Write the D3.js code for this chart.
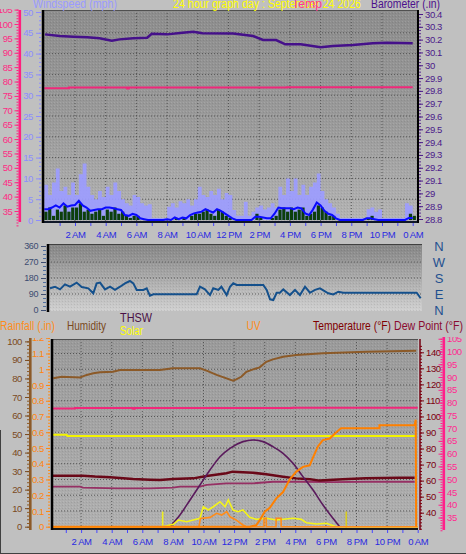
<!DOCTYPE html>
<html><head><meta charset="utf-8">
<script src="https://cdn.jsdelivr.net/npm/d3@7/dist/d3.min.js"></script>
<style>
html,body{margin:0;padding:0;background:#c0c0c0;}
svg{display:block;}
text{font-family:"Liberation Sans",Arial,sans-serif;}
</style></head><body>
<svg id="chart" width="466" height="554"></svg>
<script>
// ---------------- DATA ----------------
const hourTicks = [2,4,6,8,10,12,14,16,18,20,22,24];
const hourLabels = ["2 AM","4 AM","6 AM","8 AM","10 AM","12 PM","2 PM","4 PM","6 PM","8 PM","10 PM","0 AM"];

const pinkTicks = [35,40,45,50,55,60,65,70,75,80,85,90,95,100,105];
const windTicks = [0,5,10,15,20,25,30,35,40,45,50];
const baroTicks = [28.8,28.9,29.0,29.1,29.2,29.3,29.4,29.5,29.6,29.7,29.8,29.9,30.0,30.1,30.2,30.3,30.4];
const dirTicks = [0,90,180,270,360];
const dirLetters = ["N","W","S","E","N"];
const dirLetterAngles = [360,270,180,90,0];
const humTicks = [0,10,20,30,40,50,60,70,80,90,100];
const rainTicks = [0,0.1,0.2,0.3,0.4,0.5,0.6,0.7,0.8,0.9,1,1.1,1.2];
const tempTicks = [40,50,60,70,80,90,100,110,120,130,140];

// wind (mph), one value every 15 minutes from 0:00 to 24:00
const windHigh = [8.5,6,9,12.4, 7,8,6,9, 6,11,13.6,8, 6,5,7,5.5, 8,6,9,7, 5,4,3.5,6, 5.5,4,3.5,3.8, 0.5,0.5,0.5,0.5,
  3.2,4,3,4.5, 4,5,3.5,5, 8,6,5.5,7, 6,7.5,5,6.5, 6,2.4,1,1, 4.4,1,2,3, 3.5,2.5,3,4, 3,8,6,10,
  7,10,6,8.5, 6,8,9,11.2, 7,5,4,3, 1.5,0.5,0.5,0.5, 0.5,0.5,0.5,0.5, 2.6,3,2,2.5, 0.5,0.5,0.5,0.5, 0.5,0.5,4,3.5, 4];
const windAvg = [2.6,2.6,3,3.5, 3,4,3.2,3.5, 3.6,4.6,3.5,3, 2.2,2.4,2.6,2.6, 3,3,2.8,2.6, 2.4,1.2,1,1.5, 1.2,0.4,0.2,0, 0,0,0,0,
  0.2,0,0.6,0.2, 0.6,0.4,1.2,1.6, 1.8,2,2.6,2.2, 1.8,2.6,2.2,1.6, 1,0.4,0,0, 0,0,0,0.8, 0.8,0.6,0.4,0.4, 1.5,3,2.8,2.8,
  2.8,2.6,3,2.8, 1.6,1.2,2.5,4.2, 3.5,2.2,1.5,1.2, 0.4,0,0,0, 0,0,0,0, 0.4,0.4,0.2,0, 0,0,0,0, 0,0,0,0.5, 0.5];
const windSpeed = [2,3,1,2.5, 2,3.5,2,3, 3,4,2,2.5, 1.5,2,2.5,1, 2.5,2,3,1.5, 2,1,0.5,1, 1,0,0,0, 0,0,0,0,
  0,0,0.5,0, 0.5,0,1,1.5, 1.5,2,2.5,1.5, 1,2.5,2,1, 0.5,0,0,0, 0,0,0,1.5, 0.5,0,0,0.5, 1,2.5,3,2,
  3,2,2.5,3, 1,1.5,2,3.5, 3,2,1,1, 0,0,0,0, 0,0,0,0, 0.5,1,0,0, 0,0,0,0, 0,0,0,1.5, 1];
const windStepHours = 0.25;

const baroHours = [0.05,1.0,1.9,2.8,3.6,4.4,4.9,5.8,6.7,7.0,8.0,9.0,9.7,10.3,12.3,13.6,14.25,15.1,15.7,16.7,18.0,18.8,20.1,21.4,22.3,24.0];
const baroValues = [30.241,30.228,30.223,30.218,30.210,30.191,30.202,30.210,30.215,30.246,30.241,30.254,30.262,30.249,30.248,30.228,30.197,30.197,30.163,30.163,30.140,30.150,30.158,30.171,30.176,30.171];

const insideTempHours = [0,1.6,5.3,5.4,5.5,15.8,24];
const insideTempValues = [77.7,77.9,77.9,77.6,77.9,78.0,78.0];

const dirHours = [0.13,0.45,0.78,1.1,1.43,1.86,2.19,2.62,2.94,3.16,3.38,3.7,4.03,4.35,4.68,5.0,5.32,5.54,5.76,6.19,6.41,6.62,6.84,9.65,9.87,10.19,10.52,10.73,11.06,11.26,11.6,11.82,12.03,12.25,13.98,14.2,14.42,14.63,14.85,15.06,15.28,15.71,16.04,16.36,16.69,17.01,17.34,17.66,18.2,18.53,18.85,19.18,23.94,24.2];
const dirValues = [122,131,116,144,131,154,129,122,94,150,154,116,131,113,131,150,163,150,113,113,122,80,88,88,131,116,84,122,113,131,84,131,150,141,141,113,60,56,97,97,116,84,113,84,131,97,113,122,94,88,103,97,97,66];

const humHours = [0.18,0.73,1.93,2.37,2.8,3.24,4.08,4.54,7.16,8.0,9.77,10.2,10.86,11.93,12.14,12.47,12.8,13.24,13.67,14.1,14.54,15.2,16.07,17.81,20.64,23.9];
const humValues = [80.1,80.9,80.5,81.9,82.8,83.3,83.6,84.6,84.6,85.5,85.5,84.2,81.9,78.8,79.5,80.9,83.6,84.9,86.0,89.0,90.3,91.7,92.7,93.6,94.4,95.0];

const insideHumHours = [0.1,1.06,1.1,23.9];
const insideHumValues = [49.6,49.6,48.9,48.9];

const tempHours = [0.16,2.12,2.9,3.9,5.4,6.5,7.16,8.0,9.33,10.2,11.5,11.9,13.24,14.1,15.2,16.05,16.96,17.6,19.1,20.6,22.8,23.8];
const tempValues = [63.1,63.1,62.5,62.1,61.0,60.6,60.4,61.0,61.4,62.9,64.6,65.6,64.9,63.9,62.4,61.4,60.8,60.0,60.8,61.4,61.8,61.8];

const dewHours = [0.16,1.93,2.12,4.35,6.5,8.0,8.46,9.77,10.2,11.5,13.24,14.54,16.3,18.46,20.6,23.8];
const dewValues = [56.2,56.2,55.6,55.2,55.2,55.6,56.2,56.2,57.3,58.3,58.3,59.3,59.3,59.0,59.3,59.3];

const thswHours = [7.81,8.46,9.12,9.77,10.42,11.08,11.73,12.58,13.24,13.89,14.54,15.2,15.85,16.5,17.16,17.81,18.46,18.9];
const thswValues = [0,100,229,357,486,600,672,729,743,729,686,629,543,429,314,186,72,0];

const solarHours = [0,7.33,8.03,8.35,8.9,9.33,9.77,9.99,10.31,10.64,11.08,11.41,11.62,11.93,12.25,12.58,13.02,13.45,14.1,14.76,15.85,16.39,16.72,17.4,18.03,18.68,24];
const solarValues = [0,0,20,57,43,57,72,171,143,171,214,171,229,143,129,143,80,63,72,57,72,63,34,23,29,0,0];
const sunMarkHours = [7.33,19.33];
const sunMarkLevel = 130;

const uvHours = [0,9.7,9.8,10.43,10.86,11.19,11.52,11.73,12.1,12.58,12.8,13.95,13.96,14.1,14.11,14.74,14.75,15.07,15.08,24];
const uvValues = [0,0,0.7,0.8,1.15,1.0,1.3,0.85,0.6,0.15,0,0,0.72,0.72,0,0,0.72,0.72,0,0];

const rainHours = [0,13.0,13.45,13.67,14.0,14.33,14.76,15.2,15.63,16.07,16.5,16.94,17.16,17.48,17.8,18.25,18.68,18.99,21.5,21.5,23.8,23.87,23.9];
const rainValues = [0,0,0.01,0.04,0.095,0.12,0.18,0.22,0.30,0.35,0.38,0.39,0.44,0.51,0.55,0.56,0.60,0.625,0.625,0.645,0.645,0.68,0];

// ---------------- DRAW ----------------
const svg = d3.select("#chart");
svg.append("rect").attr("width",466).attr("height",554).attr("fill","#c0c0c0");
const defs = svg.append("defs");
function vgrad(id, stops){
  const g = defs.append("linearGradient").attr("id",id).attr("x1",0).attr("y1",0).attr("x2",0).attr("y2",1);
  stops.forEach(s=>g.append("stop").attr("offset",s[0]).attr("stop-color",s[1]));
}
vgrad("gTop",[[0,"#8d8d8d"],[0.55,"#9b9b9b"],[1,"#b4b4b4"]]);
vgrad("gMid",[[0,"#858585"],[0.28,"#999"],[1,"#d0d0d0"]]);
vgrad("gBot",[[0,"#9a9a9a"],[1,"#b0b0b0"]]);
const pat = defs.append("pattern").attr("id","speck").attr("width",3).attr("height",3).attr("patternUnits","userSpaceOnUse");
pat.append("rect").attr("x",0).attr("y",0).attr("width",1).attr("height",1).attr("fill","#fff").attr("opacity",0.12);
pat.append("rect").attr("x",2).attr("y",1).attr("width",1).attr("height",1).attr("fill","#000").attr("opacity",0.08);

const P = {top:{x0:43,x1:418,y0:10,y1:222}, mid:{x0:48,x1:422,y0:244,y1:311}, bot:{x0:52,x1:418,y0:339,y1:529}};
Object.entries(P).forEach(([k,p])=>{
  defs.append("clipPath").attr("id","clip"+k).append("rect").attr("x",p.x0).attr("y",p.y0).attr("width",p.x1-p.x0).attr("height",p.y1-p.y0);
});
const gradId = {top:"gTop",mid:"gMid",bot:"gBot"};
Object.entries(P).forEach(([k,p])=>{
  svg.append("rect").attr("x",p.x0).attr("y",p.y0).attr("width",p.x1-p.x0).attr("height",p.y1-p.y0).attr("fill","url(#"+gradId[k]+")");
  svg.append("rect").attr("x",p.x0).attr("y",p.y0).attr("width",p.x1-p.x0).attr("height",p.y1-p.y0).attr("fill","url(#speck)");
});

// scales
const xTop = d3.scaleLinear().domain([0,24]).range([44.3,412.7]);
const xMid = d3.scaleLinear().domain([0,24]).range([48,417.6]);
const xBot = d3.scaleLinear().domain([0,24]).range([50.5,417.7]);
const windY = d3.scaleLinear().domain([0,50]).range([220,12]);
const pinkTopY = d3.scaleLinear().domain([35,100]).range([211,24]);
const baroY = d3.scaleLinear().domain([28.8,30.4]).range([219,14]);
const dirY = d3.scaleLinear().domain([0,360]).range([310,246]);
const humY = d3.scaleLinear().domain([0,100]).range([526.7,341.4]);
const rainY = d3.scaleLinear().domain([0,1.1]).range([526.7,353.5]);
const tempY = d3.scaleLinear().domain([40,140]).range([512.7,352.3]);
const pinkBotY = d3.scaleLinear().domain([35,100]).range([517.5,351.5]);
const solarY = d3.scaleLinear().domain([0,1600]).range([526.7,340]);
const uvY = d3.scaleLinear().domain([0,16]).range([526.7,340]);

const gridCol = "#555", gridDash = "1,2";
function hgrid(g, vals, scale, p){
  g.selectAll(null).data(vals).join("line").attr("x1",p.x0).attr("x2",p.x1)
    .attr("y1",d=>scale(d)).attr("y2",d=>scale(d)).attr("stroke",gridCol).attr("stroke-dasharray",gridDash).attr("stroke-width",1);
}
function vgrid(g, vals, scale, p){
  g.selectAll(null).data(vals).join("line").attr("y1",p.y0).attr("y2",p.y1)
    .attr("x1",d=>scale(d)).attr("x2",d=>scale(d)).attr("stroke",gridCol).attr("stroke-dasharray",gridDash).attr("stroke-width",1);
}

// ---------- TOP PANEL ----------
const gT = svg.append("g").attr("clip-path","url(#cliptop)");
hgrid(gT, windTicks.filter(d=>d>0&&d<50), windY, P.top);
vgrid(gT, hourTicks.filter(d=>d<24), xTop, P.top);

gT.append("path").datum(windHigh)
  .attr("d", d3.area().x((d,i)=>xTop(i*windStepHours)).y0(windY(0)).y1(d=>windY(d)).curve(d3.curveStepAfter))
  .attr("fill","#9c9cff").attr("opacity",0.92);
gT.selectAll("rect.ws").data(windSpeed).join("rect").attr("class","ws")
  .attr("x",(d,i)=>xTop(i*windStepHours)).attr("width",3.2)
  .attr("y",d=>windY(d)).attr("height",d=>windY(0)-windY(d)).attr("fill","#0c3f0c");
gT.append("path").datum(windAvg)
  .attr("d", d3.line().x((d,i)=>xTop(i*windStepHours)).y(d=>windY(d)))
  .attr("fill","none").attr("stroke","#0a0aff").attr("stroke-width",2);
gT.append("path").datum(insideTempHours.map((h,i)=>[h,insideTempValues[i]]))
  .attr("d", d3.line().x(d=>xTop(d[0])).y(d=>pinkTopY(d[1])).curve(d3.curveStepAfter))
  .attr("fill","none").attr("stroke","#f0287a").attr("stroke-width",2);
gT.append("path").datum(baroHours.map((h,i)=>[h,baroValues[i]]))
  .attr("d", d3.line().x(d=>xTop(d[0])).y(d=>baroY(d[1])))
  .attr("fill","none").attr("stroke","#45108a").attr("stroke-width",2.5);

// borders top
svg.append("line").attr("x1",43).attr("x2",418).attr("y1",10.5).attr("y2",10.5).attr("stroke","#505050");
svg.append("line").attr("x1",43).attr("x2",418).attr("y1",222).attr("y2",222).attr("stroke","#101828").attr("stroke-width",2);
svg.append("line").attr("x1",43).attr("x2",43).attr("y1",10).attr("y2",223).attr("stroke","#000").attr("stroke-width",2.5);
svg.append("line").attr("x1",418).attr("x2",418).attr("y1",10).attr("y2",223).attr("stroke","#000").attr("stroke-width",2);

function styleAxis(sel, color, size){
  sel.select(".domain").remove();
  sel.selectAll("line").attr("stroke", color);
  sel.selectAll("text").attr("fill", color).style("font-size", size+"px").style("letter-spacing","-0.4px")
    .style("font-family",'"Liberation Sans",Arial,sans-serif');
  return sel;
}
const lblSize = 9.5;

// pink left axis (top)
svg.append("rect").attr("x",18.5).attr("y",10).attr("width",2.6).attr("height",212).attr("fill","#ff1f7e");
const pinkAxG = svg.append("g").attr("clip-path","url(#cliptopaxis)");
defs.append("clipPath").attr("id","cliptopaxis").append("rect").attr("x",0).attr("y",9).attr("width",466).attr("height",220);
styleAxis(pinkAxG.append("g").attr("transform","translate(18.5,0)")
  .call(d3.axisLeft(pinkTopY).tickValues(d3.range(30,106,1)).tickSize(2).tickFormat("")), "#ff1f7e", lblSize);
styleAxis(pinkAxG.append("g").attr("transform","translate(18.5,0)")
  .call(d3.axisLeft(pinkTopY).tickValues(pinkTicks).tickSize(4).tickPadding(2)), "#ff2a84", lblSize);

// windspeed axis
styleAxis(svg.append("g").attr("transform","translate(41,0)")
  .call(d3.axisLeft(windY).tickValues(d3.range(0,51,1)).tickSize(2).tickFormat("")), "#8c8cff", lblSize);
styleAxis(svg.append("g").attr("transform","translate(41,0)")
  .call(d3.axisLeft(windY).tickValues(windTicks).tickSize(5).tickPadding(3)), "#8c8cff", lblSize);

// barometer axis
styleAxis(svg.append("g").attr("transform","translate(419,0)")
  .call(d3.axisRight(baroY).tickValues(d3.range(28.8,30.41,0.025)).tickSize(2).tickFormat("")), "#5a2a90", lblSize);
styleAxis(svg.append("g").attr("transform","translate(419,0)")
  .call(d3.axisRight(baroY).tickValues(baroTicks).tickSize(4).tickPadding(2).tickFormat(d=>String(+d.toFixed(1)))), "#4b1a8a", lblSize);

// time axis (top)
styleAxis(svg.append("g").attr("transform","translate(0,223)")
  .call(d3.axisBottom(xTop).tickValues(d3.range(1,25,1)).tickSize(3).tickFormat("")), "#4848ff", lblSize);
styleAxis(svg.append("g").attr("transform","translate(0,222)")
  .call(d3.axisBottom(xTop).tickValues(hourTicks).tickFormat((d,i)=>hourLabels[i]).tickSize(0).tickPadding(9)), "#2a2ae0", lblSize);

// headers
function label(txt, x, y, color, size, len){
  const t = svg.append("text").attr("x",x).attr("y",y).attr("fill",color).style("font-size",size+"px").text(txt);
  if (len) t.attr("textLength",len).attr("lengthAdjust","spacingAndGlyphs");
  return t;
}
label("Windspeed (mph)", 33, 8, "#9a9aff", 12.5, 84);
label("24 hour graph day : September 24 2026", 173, 8, "#ffff00", 12.5, 188);
label("Temp", 292, 8, "#ff3396", 12.5, 30);
label("Barometer (.in)", 371, 8, "#4b0f8c", 12.5, 69);

// ---------- MIDDLE PANEL ----------
const gM = svg.append("g").attr("clip-path","url(#clipmid)");
hgrid(gM, [90,180,270], dirY, P.mid);
gM.append("path").datum(dirHours.map((h,i)=>[h,dirValues[i]]))
  .attr("d", d3.line().x(d=>xMid(d[0])).y(d=>dirY(d[1])))
  .attr("fill","none").attr("stroke","#14508c").attr("stroke-width",2);
svg.append("line").attr("x1",48).attr("x2",422).attr("y1",244.5).attr("y2",244.5).attr("stroke","#404040");
svg.append("line").attr("x1",48).attr("x2",48).attr("y1",244).attr("y2",312).attr("stroke","#000").attr("stroke-width",2.5);
styleAxis(svg.append("g").attr("transform","translate(46,0)")
  .call(d3.axisLeft(dirY).tickValues(d3.range(0,361,22.5)).tickSize(3).tickFormat("")), "#5070a0", lblSize);
styleAxis(svg.append("g").attr("transform","translate(46,0)")
  .call(d3.axisLeft(dirY).tickValues(dirTicks).tickSize(5).tickPadding(3)), "#3c4c70", 9);
svg.selectAll("text.dirl").data(dirLetters).join("text").attr("class","dirl")
  .attr("x",439).attr("y",(d,i)=>dirY(dirLetterAngles[i])+5).attr("text-anchor","middle")
  .attr("fill","#1f5090").style("font-size","13px").text(d=>d);

// ---------- BOTTOM PANEL ----------
const gB = svg.append("g").attr("clip-path","url(#clipbot)");
hgrid(gB, rainTicks.filter(d=>d>0), rainY, P.bot);
vgrid(gB, hourTicks.filter(d=>d<24), xBot, P.bot);
const lineXY = (xs, ys, yScale, curve) => d3.line().x((d,i)=>xBot(xs[i])).y((d,i)=>yScale(ys[i])).curve(curve||d3.curveLinear)(xs);

gB.append("path").attr("d", lineXY(insideHumHours, insideHumValues, humY)).attr("fill","none").attr("stroke","#f4f400").attr("stroke-width",2);
gB.append("path").attr("d", lineXY(insideTempHours, insideTempValues, pinkBotY, d3.curveStepAfter)).attr("fill","none").attr("stroke","#f0287a").attr("stroke-width",2);
gB.append("path").attr("d", lineXY(humHours, humValues, humY)).attr("fill","none").attr("stroke","#8c5a28").attr("stroke-width",2);
gB.append("path").attr("d", lineXY(dewHours, dewValues, tempY)).attr("fill","none").attr("stroke","#963064").attr("stroke-width",1.8);
gB.append("path").attr("d", lineXY(tempHours, tempValues, tempY)).attr("fill","none").attr("stroke","#6a0818").attr("stroke-width",2.5);
gB.append("path").attr("d", lineXY(thswHours, thswValues, solarY, d3.curveMonotoneX)).attr("fill","none").attr("stroke","#5a1a5c").attr("stroke-width",1.6);
gB.append("path").attr("d", lineXY(solarHours, solarValues, solarY)).attr("fill","none").attr("stroke","#f4f41a").attr("stroke-width",1.6);
gB.selectAll("line.sun").data(sunMarkHours).join("line").attr("class","sun")
  .attr("x1",d=>xBot(d)).attr("x2",d=>xBot(d)).attr("y1",solarY(sunMarkLevel)).attr("y2",solarY(0)+4)
  .attr("stroke",(d,i)=>i?"#d8cc20":"#f0f020").attr("stroke-width",1.6);
gB.append("path").attr("d", lineXY(uvHours, uvValues, uvY)).attr("fill","none").attr("stroke","#ff8c1a").attr("stroke-width",1.6);
gB.append("path").attr("d", lineXY(rainHours, rainValues, rainY)).attr("fill","none").attr("stroke","#ff8000").attr("stroke-width",2);

svg.append("line").attr("x1",52).attr("x2",418).attr("y1",339.5).attr("y2",339.5).attr("stroke","#505050");
svg.append("line").attr("x1",52).attr("x2",418).attr("y1",529).attr("y2",529).attr("stroke","#181818").attr("stroke-width",2);
svg.append("line").attr("x1",52).attr("x2",52).attr("y1",339).attr("y2",530).attr("stroke","#000").attr("stroke-width",2.5);

// humidity axis
svg.append("rect").attr("x",29).attr("y",338).attr("width",2.6).attr("height",192).attr("fill","#8c5a28");
styleAxis(svg.append("g").attr("transform","translate(29,0)")
  .call(d3.axisLeft(humY).tickValues(d3.range(0,101,2)).tickSize(2).tickFormat("")), "#8c5a28", lblSize);
styleAxis(svg.append("g").attr("transform","translate(29,0)")
  .call(d3.axisLeft(humY).tickValues(humTicks).tickSize(4).tickPadding(3)), "#7a4a1e", lblSize);
// rainfall axis
const rainAxG = svg.append("g").attr("clip-path","url(#cliprainaxis)");
defs.append("clipPath").attr("id","cliprainaxis").append("rect").attr("x",0).attr("y",338).attr("width",466).attr("height",200);
styleAxis(rainAxG.append("g").attr("transform","translate(50,0)")
  .call(d3.axisLeft(rainY).tickValues(d3.range(0,1.21,0.02)).tickSize(2).tickFormat("")), "#ff8c1a", lblSize);
styleAxis(rainAxG.append("g").attr("transform","translate(50,0)")
  .call(d3.axisLeft(rainY).tickValues(rainTicks).tickSize(4).tickPadding(2).tickFormat(d=>String(+d.toFixed(1)))), "#ff8410", lblSize);
// temperature axis
svg.append("line").attr("x1",420).attr("x2",420).attr("y1",339).attr("y2",530).attr("stroke","#700010").attr("stroke-width",1.5);
styleAxis(svg.append("g").attr("transform","translate(420,0)")
  .call(d3.axisRight(tempY).tickValues(d3.range(30,146,2)).tickSize(2).tickFormat("")), "#800010", lblSize);
styleAxis(svg.append("g").attr("transform","translate(420,0)")
  .call(d3.axisRight(tempY).tickValues(tempTicks).tickSize(4).tickPadding(2)), "#7a0010", lblSize);
// pink right axis (bottom)
const pinkBotG = svg.append("g").attr("clip-path","url(#clippinkbot)");
defs.append("clipPath").attr("id","clippinkbot").append("rect").attr("x",0).attr("y",337).attr("width",466).attr("height",200);
pinkBotG.append("rect").attr("x",442.5).attr("y",335).attr("width",2.6).attr("height",195).attr("fill","#ff1f8a");
styleAxis(pinkBotG.append("g").attr("transform","translate(442.5,0)")
  .call(d3.axisLeft(pinkBotY).tickValues(d3.range(30,106,1)).tickSize(2).tickFormat("")), "#ff1f8a", lblSize);
styleAxis(pinkBotG.append("g").attr("transform","translate(442.5,0)")
  .call(d3.axisLeft(pinkBotY).tickValues(pinkTicks).tickSize(4).tickFormat("")), "#ff1f8a", lblSize);
styleAxis(pinkBotG.append("g").attr("transform","translate(445,0)")
  .call(d3.axisRight(pinkBotY).tickValues(pinkTicks).tickSize(0).tickPadding(2)), "#ff2a90", lblSize);

// time axis (bottom)
styleAxis(svg.append("g").attr("transform","translate(0,530)")
  .call(d3.axisBottom(xBot).tickValues(d3.range(1,25,1)).tickSize(3).tickFormat("")), "#4848ff", lblSize);
styleAxis(svg.append("g").attr("transform","translate(0,529)")
  .call(d3.axisBottom(xBot).tickValues(hourTicks).tickFormat((d,i)=>hourLabels[i]).tickSize(0).tickPadding(9)), "#2a2ae0", lblSize);

// legend texts
label("Rainfall (.in)", 0, 330, "#ff8c1a", 12, 55);
label("Humidity", 67, 330, "#7a4a1e", 12, 39);
label("THSW", 120, 321.5, "#4a1046", 12, 32);
label("Solar", 120, 335, "#ffff00", 12, 23);
label("UV", 246.5, 329.5, "#ff8c1a", 12, 14);
label("Temperature (°F)", 313, 329.5, "#800000", 12, 78);
label("Dew Point (°F)", 394, 329.5, "#8a0a30", 12, 69);

// outer frame bits
svg.append("line").attr("x1",0).attr("x2",466).attr("y1",553.5).attr("y2",553.5).attr("stroke","#404040");
svg.append("line").attr("x1",0.5).attr("x2",0.5).attr("y1",430).attr("y2",554).attr("stroke","#404040");
</script></body></html>
